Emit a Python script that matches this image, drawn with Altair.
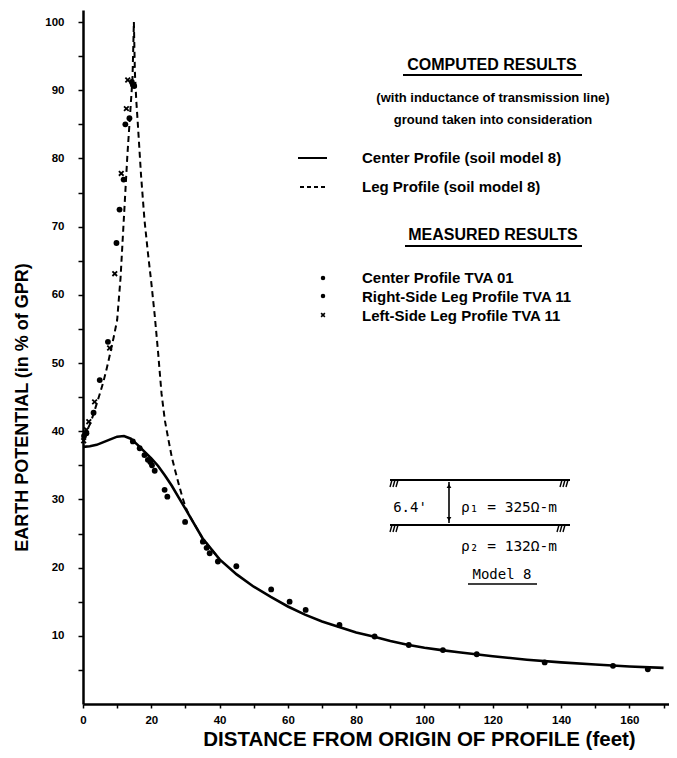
import altair as alt
import pandas as pd

# ---------------- data ----------------
# Computed: center profile (solid)
center_curve_x = [0, 2, 4, 6, 8, 10, 12, 14, 16, 18, 20, 22, 24, 26, 28, 30, 32, 35, 40, 45, 50,
                  55, 60, 65, 70, 75, 80, 85, 90, 95, 100, 105, 110, 115, 120, 130, 140, 150, 160, 170]
center_curve_y = [37.7, 37.8, 38.0, 38.4, 38.8, 39.2, 39.3, 38.9, 38.0, 37.0, 36.0, 34.9, 33.5, 32.0,
                  30.3, 28.6, 26.9, 24.3, 21.2, 19.0, 17.2, 15.7, 14.3, 13.1, 12.1, 11.3, 10.5, 9.9,
                  9.25, 8.7, 8.25, 7.9, 7.6, 7.3, 7.0, 6.5, 6.1, 5.8, 5.5, 5.3]

# Computed: leg profile (dashed)
leg_curve_x = [0, 1, 2, 3, 4, 5, 6, 7, 8, 9, 10, 11, 12, 13, 14, 14.5, 14.9, 15.2, 15.6, 16, 17, 18,
               19, 20, 21, 22, 23, 24, 25, 26, 27, 28, 29, 30, 31, 32, 35, 40]
leg_curve_y = [39.3, 39.9, 41.0, 42.4, 44.0, 45.6, 47.3, 49.3, 51.5, 53.8, 56.3, 62.5, 71.5, 80.5,
               88.0, 91.8, 100.0, 92.5, 88.5, 85.5, 77.5, 71.0, 66.2, 61.8, 57.0, 51.5, 45.5, 41.5,
               38.8, 36.2, 34.2, 32.3, 30.5, 28.9, 27.8, 26.9, 24.3, 21.2]

# Measured: center profile TVA 01 (dots)
center_meas_x = [14.6, 16.6, 18.0, 19.0, 19.7, 20.2, 21.0, 23.9, 24.7, 29.9, 35.1, 36.2, 37.1, 39.5,
                 44.9, 55.1, 60.5, 65.2, 75.1, 85.4, 95.4, 105.4, 115.3, 135.2, 155.2, 165.4]
center_meas_y = [38.5, 37.5, 36.5, 35.8, 35.5, 35.0, 34.2, 31.4, 30.4, 26.7, 23.8, 22.9, 22.1, 20.9,
                 20.2, 16.8, 15.0, 13.8, 11.6, 9.9, 8.65, 7.9, 7.3, 6.1, 5.6, 5.1]

# Measured: right-side leg profile TVA 11 (dots)
right_leg_x = [0.3, 1.0, 3.1, 4.9, 7.3, 9.8, 10.7, 11.9, 12.4, 13.6, 14.3, 14.6, 15.0]
right_leg_y = [39.3, 39.7, 42.7, 47.5, 53.1, 67.6, 72.5, 76.9, 85.0, 85.9, 91.2, 90.8, 90.6]

# Measured: left-side leg profile TVA 11 (crosses)
left_leg_x = [0.2, 1.0, 1.7, 3.4, 7.8, 9.3, 11.2, 12.7, 13.1]
left_leg_y = [38.6, 40.2, 41.4, 44.3, 52.2, 63.1, 77.8, 87.3, 91.5]

x_ticks = list(range(0, 171, 10))
y_ticks = list(range(5, 101, 5))

X_TITLE = "DISTANCE FROM ORIGIN OF PROFILE (feet)"
Y_TITLE = "EARTH POTENTIAL (in % of GPR)"

# ---------------- styling ----------------
W, H = 586, 694
AX_FONT = "Liberation Sans, Arial, sans-serif"
LEG_FONT = "Liberation Sans, Arial, sans-serif"
MONO = "DejaVu Sans Mono, monospace"

x_enc = alt.X(
    "x:Q",
    scale=alt.Scale(domain=[0, 171.6], nice=False, zero=False),
    axis=alt.Axis(
        values=x_ticks,
        labelExpr="(datum.value % 20 == 0 && datum.value <= 160) ? datum.label : ''",
        grid=False, domainColor="black", domainWidth=2.5, tickColor="black",
        tickWidth=1.5, tickSize=4, labelPadding=6, labelFont=AX_FONT,
        labelFontWeight="bold", labelFontSize=11.5, labelColor="black",
        title=X_TITLE, titleFont=AX_FONT, titleFontSize=20.5, titleFontWeight="bold",
        titleColor="black", titleX=336, titleY=41, titleAlign="center",
        titleBaseline="alphabetic", labelFlush=False,
    ),
)
y_enc = alt.Y(
    "y:Q",
    scale=alt.Scale(domain=[0, 101.76], nice=False, zero=False),
    axis=alt.Axis(
        values=y_ticks,
        labelExpr="datum.value % 10 == 0 ? datum.label : ''",
        grid=False, domainColor="black", domainWidth=2.5, tickColor="black",
        tickWidth=1.5, tickSize=5, labelPadding=14, labelFont=AX_FONT,
        labelFontWeight="bold", labelFontSize=11.5, labelColor="black",
        title=Y_TITLE, titleFont=AX_FONT, titleFontSize=18, titleFontWeight="bold",
        titleColor="black", titleX=-61, titleY=397, titleAngle=-90,
        titleAlign="center", titleBaseline="middle", labelFlush=False,
    ),
)

center_df = pd.DataFrame({"x": center_curve_x, "y": center_curve_y})
leg_df = pd.DataFrame({"x": leg_curve_x, "y": leg_curve_y})
cm_df = pd.DataFrame({"x": center_meas_x, "y": center_meas_y})
rl_df = pd.DataFrame({"x": right_leg_x, "y": right_leg_y})
ll_df = pd.DataFrame({"x": left_leg_x, "y": left_leg_y})

CROSS = "M-1,-1L1,1M1,-1L-1,1"

center_line = alt.Chart(center_df).mark_line(color="black", strokeWidth=2.6).encode(x=x_enc, y=y_enc)
leg_line = alt.Chart(leg_df).mark_line(color="black", strokeWidth=2, strokeDash=[6, 4]).encode(x=x_enc, y=y_enc)
cm_pts = alt.Chart(cm_df).mark_circle(color="black", size=34, opacity=1).encode(x=x_enc, y=y_enc)
rl_pts = alt.Chart(rl_df).mark_circle(color="black", size=34, opacity=1).encode(x=x_enc, y=y_enc)
ll_pts = alt.Chart(ll_df).mark_point(shape=CROSS, filled=False, color="black", size=22,
                                     strokeWidth=1.8, opacity=1).encode(x=x_enc, y=y_enc)


def txt(s, px, py, size, weight="bold", align="left", font=LEG_FONT):
    return alt.Chart(pd.DataFrame({"t": [s]})).mark_text(
        align=align, baseline="middle", fontSize=size, fontWeight=weight, font=font, color="black"
    ).encode(x=alt.value(px), y=alt.value(py), text="t:N")


def rule(x1, x2, y1, y2, width=2, dash=None):
    kw = dict(color="black", strokeWidth=width)
    if dash:
        kw["strokeDash"] = dash
    return alt.Chart(pd.DataFrame({"a": [0]})).mark_rule(**kw).encode(
        x=alt.value(x1), x2=alt.value(x2), y=alt.value(y1), y2=alt.value(y2)
    )


def marker(px, py, shape, size, filled=True):
    return alt.Chart(pd.DataFrame({"a": [0]})).mark_point(
        shape=shape, size=size, filled=filled, color="black", opacity=1, strokeWidth=1.6
    ).encode(x=alt.value(px), y=alt.value(py))


annots = [
    txt("COMPUTED RESULTS", 409, 55, 16, align="center"),
    rule(320, 499, 65, 65, 2),
    txt("(with inductance of transmission line)", 410, 88, 13, align="center"),
    txt("ground taken into consideration", 410, 110, 13, align="center"),
    rule(215, 244, 148, 148, 2),
    txt("Center Profile (soil model 8)", 279, 148, 15),
    rule(217, 244, 177, 177, 1.8, [4, 3]),
    txt("Leg Profile (soil model 8)", 279, 177, 15),
    txt("MEASURED RESULTS", 410, 225, 16, align="center"),
    rule(322, 499, 236, 236, 2),
    marker(240, 268, "circle", 20),
    txt("Center Profile TVA 01", 279, 268, 15),
    marker(240, 286, "circle", 20),
    txt("Right-Side Leg Profile TVA 11", 279, 287, 15),
    marker(240, 305, CROSS, 14, filled=False),
    txt("Left-Side Leg Profile TVA 11", 279, 306, 15),
    # soil model sketch
    rule(307, 487, 470, 470, 2.2),
    rule(307, 487, 515, 515, 2.2),
    rule(366, 366, 472, 513, 1.6),
    marker(366, 476, "triangle-up", 22),
    marker(366, 509, "triangle-down", 22),
    txt("6.4'", 327, 498, 14, weight="normal", align="center", font=MONO),
    txt("ρ₁ = 325Ω-m", 378, 498, 14.5, weight="normal", font=MONO),
    txt("ρ₂ = 132Ω-m", 378, 537, 14.5, weight="normal", font=MONO),
    txt("Model 8", 419, 565, 14, weight="normal", align="center", font=MONO),
    rule(385, 454, 574, 574, 1.6),
]
# hatch marks at ends of the layer boundaries
for hx in (309, 312, 315, 479, 482, 485):
    annots.append(rule(hx, hx - 2, 470, 477, 1.4))
for hx in (309, 312, 315, 476, 479, 482):
    annots.append(rule(hx, hx - 2, 515, 522, 1.4))

chart = alt.layer(
    center_line, leg_line, cm_pts, rl_pts, ll_pts, *annots
).properties(
    width=W, height=H,
    autosize=alt.AutoSizeParams(type="none"),
    padding={"left": 75, "top": 2, "right": 0, "bottom": 46},
    background="white",
).configure_view(stroke=None)

chart.save("out.html", embed_options={"renderer": "svg", "actions": False})
